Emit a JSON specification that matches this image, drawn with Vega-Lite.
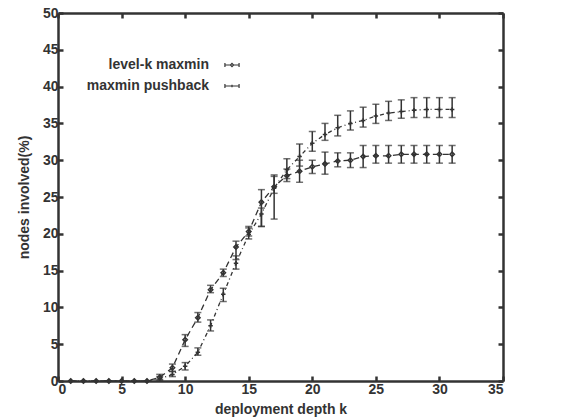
{
  "$schema": "https://vega.github.io/schema/vega-lite/v6.json",
  "autosize": "none",
  "width": 445,
  "height": 368,
  "padding": {"left": 58, "top": 13, "right": 74, "bottom": 39},
  "background": "white",
  "config": {
    "view": {"stroke": null},
    "font": "Liberation Sans",
    "axis": {
      "domainColor": "#333", "domainWidth": 2.5,
      "tickColor": "#333", "tickWidth": 2.5, "tickSize": -5,
      "grid": false,
      "labelFont": "Liberation Sans", "labelFontWeight": "bold", "labelFontSize": 14, "labelColor": "#333",
      "titleFont": "Liberation Sans", "titleFontWeight": "bold", "titleFontSize": 14, "titleColor": "#333"
    }
  },
  "data": {"values": [
    {"k":1,"series":"level-k maxmin","y":0,"lo":0,"hi":0},
    {"k":2,"series":"level-k maxmin","y":0,"lo":0,"hi":0},
    {"k":3,"series":"level-k maxmin","y":0,"lo":0,"hi":0},
    {"k":4,"series":"level-k maxmin","y":0,"lo":0,"hi":0},
    {"k":5,"series":"level-k maxmin","y":0,"lo":0,"hi":0},
    {"k":6,"series":"level-k maxmin","y":0,"lo":0,"hi":0},
    {"k":7,"series":"level-k maxmin","y":0,"lo":0,"hi":0},
    {"k":8,"series":"level-k maxmin","y":0.5,"lo":0.2,"hi":0.9},
    {"k":9,"series":"level-k maxmin","y":1.8,"lo":1.3,"hi":2.3},
    {"k":10,"series":"level-k maxmin","y":5.6,"lo":4.7,"hi":6.3},
    {"k":11,"series":"level-k maxmin","y":8.6,"lo":8.0,"hi":9.3},
    {"k":12,"series":"level-k maxmin","y":12.4,"lo":12.0,"hi":13.0},
    {"k":13,"series":"level-k maxmin","y":14.7,"lo":14.2,"hi":15.2},
    {"k":14,"series":"level-k maxmin","y":18.2,"lo":16.5,"hi":19.0},
    {"k":15,"series":"level-k maxmin","y":20.3,"lo":19.7,"hi":21.0},
    {"k":16,"series":"level-k maxmin","y":24.3,"lo":21.0,"hi":26.0},
    {"k":17,"series":"level-k maxmin","y":26.4,"lo":25.5,"hi":28.0},
    {"k":18,"series":"level-k maxmin","y":27.9,"lo":27.1,"hi":28.8},
    {"k":19,"series":"level-k maxmin","y":28.5,"lo":27.0,"hi":30.0},
    {"k":20,"series":"level-k maxmin","y":29.1,"lo":28.2,"hi":30.0},
    {"k":21,"series":"level-k maxmin","y":29.5,"lo":28.1,"hi":31.1},
    {"k":22,"series":"level-k maxmin","y":29.9,"lo":29.1,"hi":31.0},
    {"k":23,"series":"level-k maxmin","y":30.0,"lo":29.0,"hi":31.0},
    {"k":24,"series":"level-k maxmin","y":30.5,"lo":29.0,"hi":32.0},
    {"k":25,"series":"level-k maxmin","y":30.6,"lo":29.6,"hi":32.0},
    {"k":26,"series":"level-k maxmin","y":30.6,"lo":29.6,"hi":32.0},
    {"k":27,"series":"level-k maxmin","y":30.8,"lo":29.6,"hi":32.0},
    {"k":28,"series":"level-k maxmin","y":30.8,"lo":29.6,"hi":32.0},
    {"k":29,"series":"level-k maxmin","y":30.8,"lo":29.6,"hi":32.0},
    {"k":30,"series":"level-k maxmin","y":30.8,"lo":29.6,"hi":32.0},
    {"k":31,"series":"level-k maxmin","y":30.8,"lo":29.6,"hi":32.0},
    {"k":1,"series":"maxmin pushback","y":0,"lo":0,"hi":0},
    {"k":2,"series":"maxmin pushback","y":0,"lo":0,"hi":0},
    {"k":3,"series":"maxmin pushback","y":0,"lo":0,"hi":0},
    {"k":4,"series":"maxmin pushback","y":0,"lo":0,"hi":0},
    {"k":5,"series":"maxmin pushback","y":0,"lo":0,"hi":0},
    {"k":6,"series":"maxmin pushback","y":0,"lo":0,"hi":0},
    {"k":7,"series":"maxmin pushback","y":0,"lo":0,"hi":0},
    {"k":8,"series":"maxmin pushback","y":0.3,"lo":0.1,"hi":0.6},
    {"k":9,"series":"maxmin pushback","y":0.9,"lo":0.6,"hi":1.3},
    {"k":10,"series":"maxmin pushback","y":2.0,"lo":1.5,"hi":2.5},
    {"k":11,"series":"maxmin pushback","y":3.9,"lo":3.5,"hi":4.5},
    {"k":12,"series":"maxmin pushback","y":7.5,"lo":6.8,"hi":8.3},
    {"k":13,"series":"maxmin pushback","y":11.8,"lo":10.8,"hi":12.6},
    {"k":14,"series":"maxmin pushback","y":16.0,"lo":15.2,"hi":17.0},
    {"k":15,"series":"maxmin pushback","y":19.9,"lo":19.3,"hi":20.8},
    {"k":16,"series":"maxmin pushback","y":22.7,"lo":21.0,"hi":23.5},
    {"k":17,"series":"maxmin pushback","y":26.2,"lo":22.0,"hi":27.8},
    {"k":18,"series":"maxmin pushback","y":28.7,"lo":27.5,"hi":30.2},
    {"k":19,"series":"maxmin pushback","y":30.5,"lo":29.2,"hi":32.2},
    {"k":20,"series":"maxmin pushback","y":32.3,"lo":31.2,"hi":33.9},
    {"k":21,"series":"maxmin pushback","y":33.5,"lo":32.7,"hi":35.0},
    {"k":22,"series":"maxmin pushback","y":34.4,"lo":33.3,"hi":36.1},
    {"k":23,"series":"maxmin pushback","y":35.0,"lo":34.1,"hi":36.7},
    {"k":24,"series":"maxmin pushback","y":35.4,"lo":34.5,"hi":37.2},
    {"k":25,"series":"maxmin pushback","y":36.0,"lo":35.0,"hi":37.6},
    {"k":26,"series":"maxmin pushback","y":36.4,"lo":35.4,"hi":38.0},
    {"k":27,"series":"maxmin pushback","y":36.6,"lo":35.7,"hi":38.2},
    {"k":28,"series":"maxmin pushback","y":36.8,"lo":35.8,"hi":38.5},
    {"k":29,"series":"maxmin pushback","y":36.9,"lo":35.8,"hi":38.5},
    {"k":30,"series":"maxmin pushback","y":36.9,"lo":35.8,"hi":38.5},
    {"k":31,"series":"maxmin pushback","y":36.9,"lo":35.8,"hi":38.5}
  ]},
  "resolve": {"axis": {"x": "independent", "y": "independent"}, "scale": {"shape": "independent"}},
  "layer": [
    {
      "transform": [{"filter": "datum.series === 'level-k maxmin'"}],
      "mark": {"type": "line", "color": "#333", "strokeWidth": 1.3, "strokeDash": [6, 4]},
      "encoding": {
        "x": {"field": "k", "type": "quantitative", "scale": {"domain": [0, 35], "nice": false, "zero": false},
              "axis": {"orient": "bottom", "values": [0,5,10,15,20,25,30,35], "title": "deployment depth k", "titleY": 28, "titleBaseline": "middle", "labelPadding": 6}},
        "y": {"field": "y", "type": "quantitative", "scale": {"domain": [0, 50], "nice": false},
              "axis": {"orient": "left", "values": [0,5,10,15,20,25,30,35,40,45,50], "title": "nodes involved(%)", "titlePadding": 11, "labelPadding": 5}}
      }
    },
    {
      "transform": [{"filter": "datum.series === 'maxmin pushback'"}],
      "mark": {"type": "line", "color": "#333", "strokeWidth": 1.3, "strokeDash": [4, 3, 1, 3]},
      "encoding": {
        "x": {"field": "k", "type": "quantitative", "axis": null},
        "y": {"field": "y", "type": "quantitative", "axis": null}
      }
    },
    {
      "transform": [{"filter": "datum.hi > datum.lo"}],
      "mark": {"type": "rule", "color": "#333", "strokeWidth": 1.5},
      "encoding": {
        "x": {"field": "k", "type": "quantitative",
              "axis": {"orient": "top", "values": [0,5,10,15,20,25,30,35], "labels": false, "title": null}},
        "y": {"field": "lo", "type": "quantitative",
              "axis": {"orient": "right", "values": [0,5,10,15,20,25,30,35,40,45,50], "labels": false, "title": null}},
        "y2": {"field": "hi"}
      }
    },
    {
      "transform": [{"filter": "datum.hi > datum.lo"}],
      "mark": {"type": "tick", "orient": "horizontal", "color": "#333", "size": 7, "thickness": 1.5},
      "encoding": {
        "x": {"field": "k", "type": "quantitative", "axis": null},
        "y": {"field": "lo", "type": "quantitative", "axis": null}
      }
    },
    {
      "transform": [{"filter": "datum.hi > datum.lo"}],
      "mark": {"type": "tick", "orient": "horizontal", "color": "#333", "size": 7, "thickness": 1.5},
      "encoding": {
        "x": {"field": "k", "type": "quantitative", "axis": null},
        "y": {"field": "hi", "type": "quantitative", "axis": null}
      }
    },
    {
      "mark": {"type": "point", "filled": false, "color": "#333", "opacity": 1, "size": 20, "strokeWidth": 1.5},
      "encoding": {
        "x": {"field": "k", "type": "quantitative", "axis": null},
        "y": {"field": "y", "type": "quantitative", "axis": null},
        "shape": {"field": "series", "type": "nominal",
              "scale": {"domain": ["level-k maxmin", "maxmin pushback"], "range": ["diamond", "M-1,0H1M0,-1V1"]},
              "legend": null}
      }
    },
    {
      "transform": [{"filter": "datum.k < 0"}],
      "mark": {"type": "point", "filled": false, "color": "#333", "opacity": 1, "strokeWidth": 1.2},
      "encoding": {
        "x": {"field": "k", "type": "quantitative", "axis": null},
        "y": {"field": "y", "type": "quantitative", "axis": null},
        "shape": {"field": "series", "type": "nominal",
              "scale": {"domain": ["level-k maxmin", "maxmin pushback"],
                        "range": ["M-1,0H-0.22M0.22,0H1M-1,-0.3V0.3M1,-0.3V0.3M0,-0.22L0.22,0L0,0.22L-0.22,0Z", "M-1,0H1M-1,-0.3V0.3M1,-0.3V0.3M0,-0.18V0.18"]},
              "legend": {
                "title": null, "orient": "none", "legendX": 166, "legendY": 44,
                "labelFont": "Liberation Sans", "labelFontWeight": "bold", "labelFontSize": 14, "labelColor": "#333",
                "labelAlign": "right", "labelOffset": -31, "rowPadding": 6, "symbolSize": 200,
                "symbolStrokeColor": "#333", "symbolStrokeWidth": 1.2
              }}
      }
    }
  ]
}
